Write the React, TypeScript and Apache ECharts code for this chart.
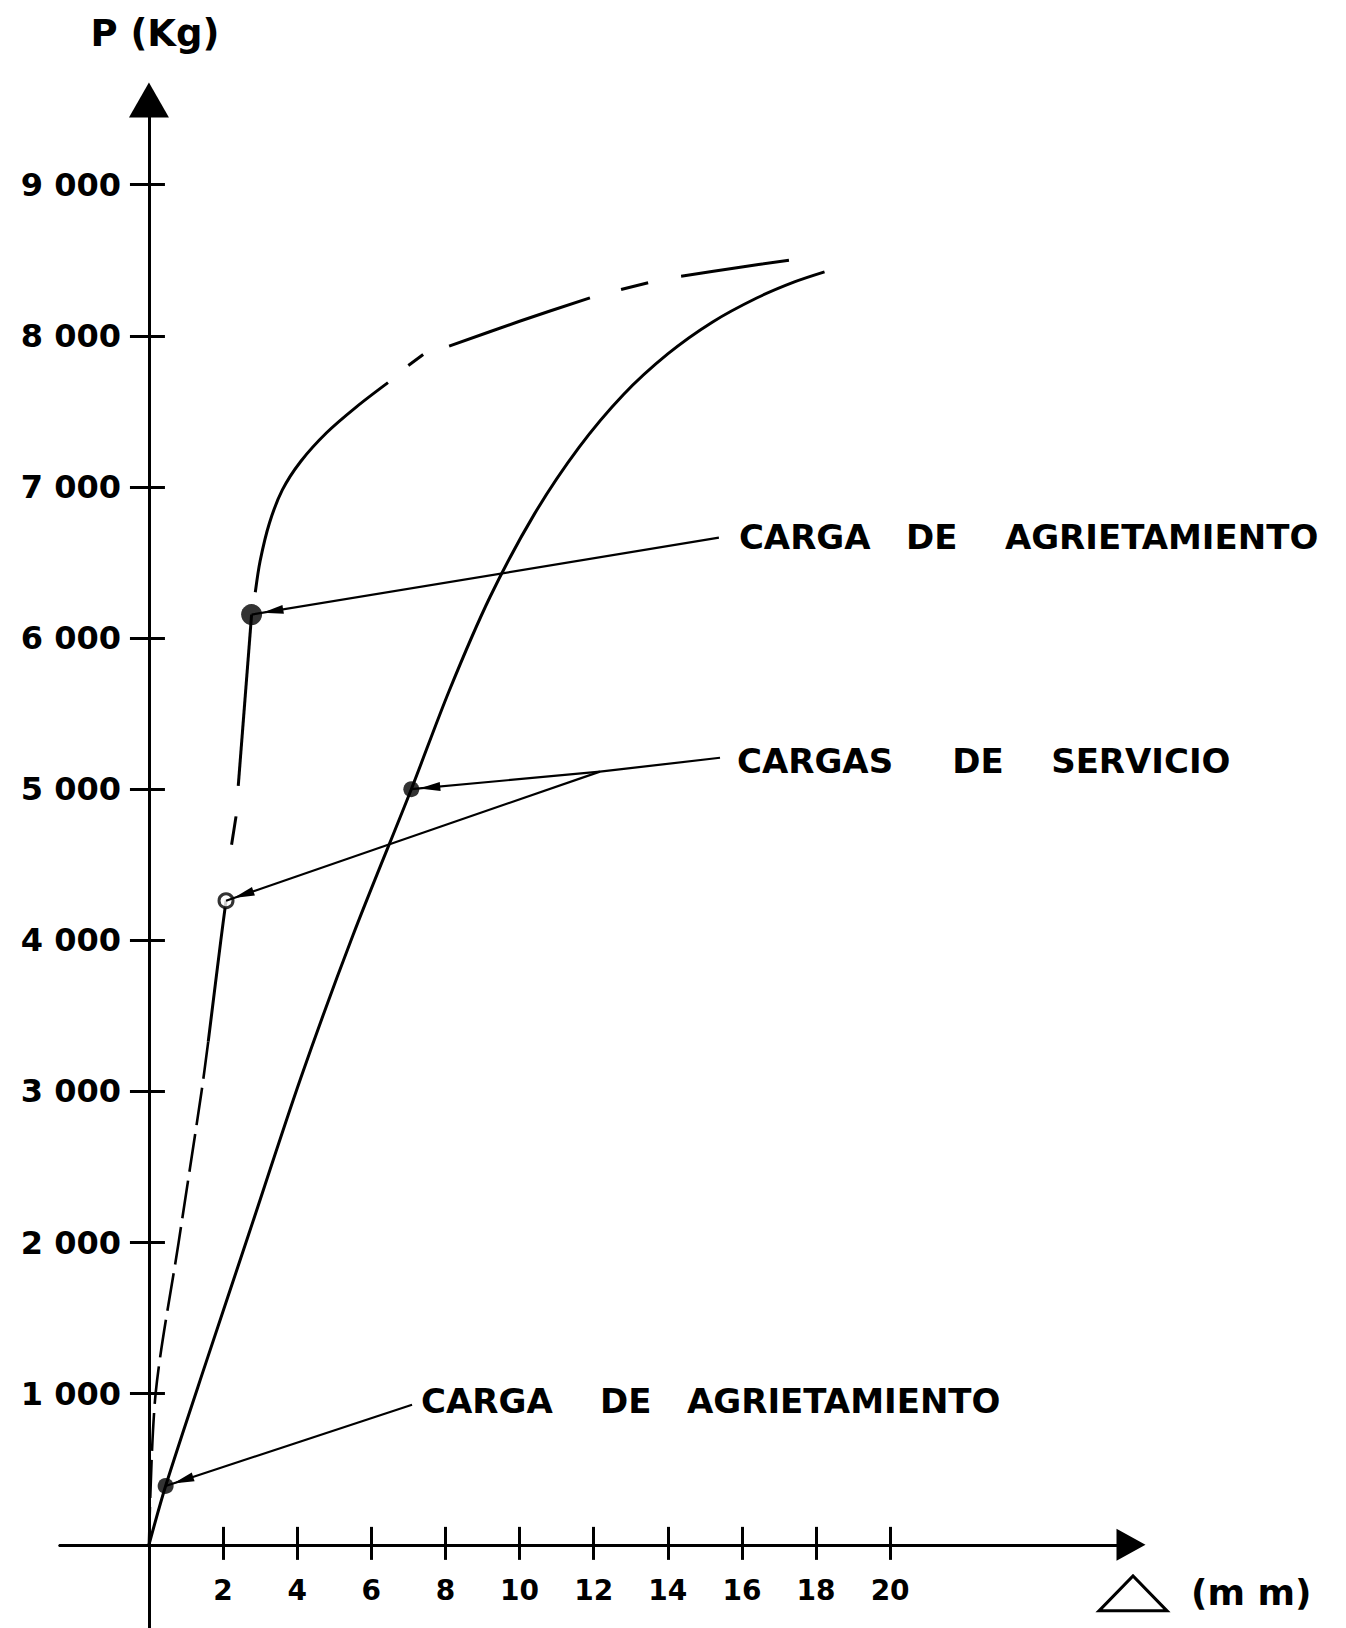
import React, { useEffect, useRef } from 'react';
import * as echarts from 'echarts';

// ---------- DATA ----------
const xTickValues = [2, 4, 6, 8, 10, 12, 14, 16, 18, 20];
const xTickLabels = ['2', '4', '6', '8', '10', '12', '14', '16', '18', '20'];
const yTickValues = [1000, 2000, 3000, 4000, 5000, 6000, 7000, 8000, 9000];
const yTickLabels = ['1 000', '2 000', '3 000', '4 000', '5 000', '6 000', '7 000', '8 000', '9 000'];

// Right curve (solid)
const curveB = [
  [0, 0], [0.45, 390], [1.55, 1214], [2.69, 2053], [4.09, 3084], [5.5, 4030],
  [7.08, 5000], [8.1, 5650], [9.2, 6270], [10.4, 6820], [11.6, 7260],
  [12.8, 7610], [14.0, 7880], [15.2, 8090], [16.4, 8250], [17.4, 8355], [18.23, 8423],
];

// Left curve, drawn in pieces (dashed / solid as in the drawing)
const leftLowDashed = [[0, 0], [0.18, 1000], [0.8, 2000], [1.42, 3000], [1.6, 3330]];
const leftLowSolid = [[1.6, 3330], [1.94, 4000], [2.08, 4262]];
const leftMidDash = [[2.23, 4633], [2.35, 4820]];
const leftMidSolid = [[2.41, 5022], [2.77, 6155]];
const leftUpSolid = [
  [2.87, 6303], [3.0, 6510], [3.25, 6760], [3.6, 6980], [4.1, 7170], [4.8, 7360],
  [5.6, 7530], [6.45, 7690],
];
const leftTopDash1 = [[7.0, 7803], [7.4, 7876]];
const leftTopDash2 = [[8.1, 7931], [10.0, 8096], [11.9, 8251]];
const leftTopDash3 = [[12.74, 8306], [13.47, 8351]];
const leftTopDash4 = [[14.36, 8394], [15.82, 8449], [17.27, 8500]];

// Marked points
const crackPoints = [[2.77, 6155], [0.45, 390]]; // carga de agrietamiento
const servicePoints = [[7.08, 5000], [2.08, 4262]]; // cargas de servicio

// Annotation texts and leader anchors (data units)
const labelTop = 'CARGA   DE    AGRIETAMIENTO';
const labelMid = 'CARGAS     DE    SERVICIO';
const labelBot = 'CARGA    DE   AGRIETAMIENTO';
const leaderTopFrom = [15.38, 6664];
const leaderMidFrom = [15.41, 5208];
const leaderMidFork = [12.17, 5116];
const leaderBotFrom = [7.1, 927];

const yTitle = 'P (Kg)';
const xTitle = '(m m)';

// Axis extents (the drawn axis lines run past the data on both ends)
const X_MIN = -2.4, X_MAX = 26.5;
const Y_MIN = -550, Y_MAX = 9560;

// ---------- STYLE ----------
const FONT = 'DejaVu Sans';
const INK = '#000';
const W = 1346, H = 1628;
const GRID = { left: 60, right: 215, top: 100, bottom: 0 };

export default function App() {
  const ref = useRef<HTMLDivElement>(null);

  useEffect(() => {
    if (!ref.current) return;
    const chart = echarts.init(ref.current, null, { renderer: 'svg' });

    const solid = { color: INK, width: 3, type: 'solid' as const };
    const lineSeries = (data: number[][], style: any = solid) => ({
      type: 'line',
      data,
      smooth: 0.3,
      symbol: 'none',
      lineStyle: style,
      silent: true,
      z: 3,
    });

    const xFmt = (v: number) => {
      const i = xTickValues.indexOf(v);
      return i >= 0 ? xTickLabels[i] : '';
    };
    const yFmt = (v: number) => {
      const i = yTickValues.indexOf(v);
      return i >= 0 ? yTickLabels[i] : '';
    };

    // move the axes from the grid edges onto the zero lines (labels move with them)
    const gridW = W - GRID.left - GRID.right;
    const gridH = H - GRID.top - GRID.bottom;
    const yAxisOffset = -((0 - X_MIN) / (X_MAX - X_MIN)) * gridW;
    const xAxisOffset = -((0 - Y_MIN) / (Y_MAX - Y_MIN)) * gridH;

    const axisLineStyle = { color: INK, width: 3 };

    const option: any = {
      animation: false,
      backgroundColor: '#fff',
      grid: { ...GRID, containLabel: false, outerBoundsMode: 'none' },
      xAxis: [
        {
          type: 'value', min: X_MIN, max: X_MAX, position: 'bottom', offset: xAxisOffset,
          splitLine: { show: false },
          axisLine: {
            show: true, onZero: false,
            symbol: ['none', 'triangle'], symbolSize: [32, 29], lineStyle: axisLineStyle,
          },
          axisTick: { show: true, inside: false, length: 15, customValues: xTickValues, lineStyle: axisLineStyle },
          axisLabel: {
            show: true, customValues: xTickValues, formatter: xFmt, margin: 32,
            fontFamily: FONT, fontWeight: 'bold', fontSize: 28, color: INK,
          },
        },
        {
          type: 'value', min: X_MIN, max: X_MAX, position: 'bottom', offset: xAxisOffset,
          splitLine: { show: false },
          axisLine: { show: true, onZero: false, lineStyle: axisLineStyle },
          axisTick: { show: true, inside: true, length: 18, customValues: xTickValues, lineStyle: axisLineStyle },
          axisLabel: { show: false },
        },
      ],
      yAxis: [
        {
          type: 'value', min: Y_MIN, max: Y_MAX, position: 'left', offset: yAxisOffset,
          splitLine: { show: false },
          axisLine: {
            show: true, onZero: false,
            symbol: ['none', 'triangle'], symbolSize: [40, 35], lineStyle: axisLineStyle,
          },
          axisTick: { show: true, inside: false, length: 19, customValues: yTickValues, lineStyle: axisLineStyle },
          axisLabel: {
            show: true, customValues: yTickValues, formatter: yFmt, margin: 28,
            fontFamily: FONT, fontWeight: 'bold', fontSize: 32, color: INK,
          },
        },
        {
          type: 'value', min: Y_MIN, max: Y_MAX, position: 'left', offset: yAxisOffset,
          splitLine: { show: false },
          axisLine: { show: true, onZero: false, lineStyle: axisLineStyle },
          axisTick: { show: true, inside: true, length: 16, customValues: yTickValues, lineStyle: axisLineStyle },
          axisLabel: { show: false },
        },
      ],
      series: [
        lineSeries(curveB),
        lineSeries(leftLowDashed, { color: INK, width: 2.6, type: [38, 9] }),
        lineSeries(leftLowSolid),
        lineSeries(leftMidDash),
        lineSeries(leftMidSolid),
        lineSeries(leftUpSolid),
        lineSeries(leftTopDash1),
        lineSeries(leftTopDash2),
        lineSeries(leftTopDash3),
        lineSeries(leftTopDash4),
        {
          type: 'scatter', silent: true, z: 6,
          data: crackPoints.map((p, i) => ({ value: p, symbolSize: i === 0 ? 21 : 16 })),
          itemStyle: { color: INK },
        },
        {
          type: 'scatter', silent: true, z: 6,
          data: servicePoints.map((p, i) => ({
            value: p,
            symbolSize: i === 0 ? 16 : 14,
            itemStyle: i === 0
              ? { color: INK }
              : { color: '#fff', borderColor: INK, borderWidth: 3 },
          })),
        },
      ],
    };

    chart.setOption(option);

    const px = (p: number[]) => chart.convertToPixel({ seriesIndex: 0 }, p) as number[];

    const arrowHead = (point: number[], from: number[], gap: number) => {
      const dx = from[0] - point[0];
      const dy = from[1] - point[1];
      const len = Math.hypot(dx, dy) || 1;
      const ux = dx / len, uy = dy / len;
      const tip = [point[0] + ux * gap, point[1] + uy * gap];
      const L = 21, hw = 4.5;
      const base = [tip[0] + ux * L, tip[1] + uy * L];
      const nx = -uy, ny = ux;
      return {
        type: 'polygon', silent: true, z: 10,
        shape: { points: [tip, [base[0] + nx * hw, base[1] + ny * hw], [base[0] - nx * hw, base[1] - ny * hw]] },
        style: { fill: INK },
      };
    };
    const seg = (a: number[], b: number[]) => ({
      type: 'line', silent: true, z: 9,
      shape: { x1: a[0], y1: a[1], x2: b[0], y2: b[1] },
      style: { stroke: INK, lineWidth: 2.2 },
    });
    const label = (text: string, x: number, y: number) => ({
      type: 'text', silent: true, z: 10, x, y,
      style: {
        text, fill: INK, font: `bold 34px "${FONT}"`,
        align: 'left', verticalAlign: 'middle',
      },
    });

    const topFrom = px(leaderTopFrom);
    const topPt = px(crackPoints[0]);
    const midFrom = px(leaderMidFrom);
    const midFork = px(leaderMidFork);
    const midPtB = px(servicePoints[0]);
    const midPtA = px(servicePoints[1]);
    const botFrom = px(leaderBotFrom);
    const botPt = px(crackPoints[1]);
    const origin = px([0, 0]);
    const xEnd = px([X_MAX, 0]);

    const graphic: any[] = [
      // axis titles
      {
        type: 'text', silent: true, x: origin[0] + 6, y: 33,
        style: { text: yTitle, fill: INK, font: `bold 37px "${FONT}"`, align: 'center', verticalAlign: 'middle' },
      },
      {
        type: 'polygon', silent: true,
        shape: { points: [[xEnd[0] - 32, origin[1] + 66], [xEnd[0] + 2, origin[1] + 31], [xEnd[0] + 36, origin[1] + 66]] },
        style: { fill: 'none', stroke: INK, lineWidth: 3, lineJoin: 'miter' },
      },
      {
        type: 'text', silent: true, x: xEnd[0] + 60, y: origin[1] + 48,
        style: { text: xTitle, fill: INK, font: `bold 36px "${FONT}"`, align: 'left', verticalAlign: 'middle' },
      },
      // top annotation
      seg(topFrom, topPt),
      arrowHead(topPt, topFrom, 11),
      label(labelTop, topFrom[0] + 20, topFrom[1] - 1),
      // middle annotation
      seg(midFrom, midFork),
      seg(midFork, midPtB),
      seg(midFork, midPtA),
      arrowHead(midPtB, midFork, 8),
      arrowHead(midPtA, midFork, 8),
      label(labelMid, midFrom[0] + 17, midFrom[1] + 3),
      // bottom annotation
      seg(botFrom, botPt),
      arrowHead(botPt, botFrom, 8),
      label(labelBot, botFrom[0] + 9, botFrom[1] - 4),
    ];

    chart.setOption({ graphic });

    return () => chart.dispose();
  }, []);

  return (
    <div
      ref={ref}
      style={{ position: 'absolute', left: 0, top: 0, width: W, height: H, background: '#fff' }}
    />
  );
}
